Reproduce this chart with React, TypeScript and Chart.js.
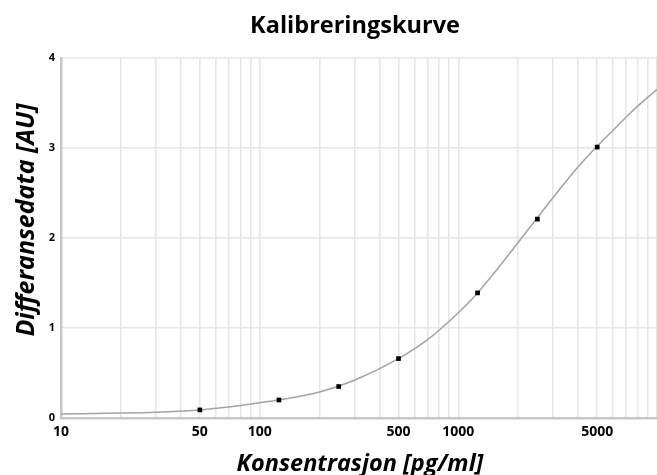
import { useEffect, useRef } from "react";
import { Chart, registerables } from "chart.js";

Chart.register(...registerables);

// Measured calibration standards
const concentrations = [50, 125, 250, 500, 1250, 2500, 5000];
const responses = [0.09, 0.2, 0.35, 0.66, 1.39, 2.21, 3.01];

// Fitted curve
const curveX = [10, 20, 30, 50, 100, 200, 300, 500, 700, 1000, 1250, 1500, 2000, 3000, 4000, 5000, 6000, 7000, 8000, 9000, 10000];
const curveY = [0.045, 0.055, 0.065, 0.09, 0.17, 0.29, 0.42, 0.66, 0.87, 1.17, 1.39, 1.6, 1.95, 2.45, 2.79, 3.02, 3.195, 3.345, 3.465, 3.565, 3.65];

// Axis ticks
const xGridValues = [
  10, 20, 30, 40, 50, 60, 70, 80, 90,
  100, 200, 300, 400, 500, 600, 700, 800, 900,
  1000, 2000, 3000, 4000, 5000, 6000, 7000, 8000, 9000, 10000,
];
const xTickLabels = [10, 50, 100, 500, 1000, 5000];
const yTicks = [0, 1, 2, 3, 4];

const chartTitle = "Kalibreringskurve";
const xTitle = "Konsentrasjon [pg/ml]";
const yTitle = "Differansedata [AU]";

const FONT = "'Open Sans'";
const W = 657;
const H = 475;

export default function App() {
  const ref = useRef<HTMLCanvasElement | null>(null);

  useEffect(() => {
    if (!ref.current) return;

    const titlesPlugin = {
      id: "titlesPlugin",
      afterDraw(chart: any) {
        const { ctx, chartArea } = chart;
        const cx = (chartArea.left + chartArea.right) / 2;
        ctx.save();
        ctx.fillStyle = "#000";
        ctx.textAlign = "center";
        ctx.textBaseline = "alphabetic";
        ctx.font = `bold 23.5px ${FONT}`;
        ctx.fillText(chartTitle, cx - 4, 33);
        ctx.font = `italic bold 23.5px ${FONT}`;
        ctx.fillText(xTitle, cx + 1, 471);
        ctx.font = `italic bold 25px ${FONT}`;
        ctx.translate(34, chartArea.top + (chartArea.bottom - chartArea.top) * 0.45);
        ctx.rotate(-Math.PI / 2);
        ctx.fillText(yTitle, 0, 0);
        ctx.restore();
      },
    };

    const chart = new Chart(ref.current, {
      type: "scatter",
      data: {
        datasets: [
          {
            label: "Standarder",
            data: concentrations.map((c, i) => ({ x: c, y: responses[i] })),
            showLine: false,
            pointStyle: "rect",
            pointRadius: 3.3,
            pointBackgroundColor: "#000",
            pointBorderColor: "#000",
            pointBorderWidth: 0,
            order: 0,
          },
          {
            label: "Kurve",
            data: curveX.map((c, i) => ({ x: c, y: curveY[i] })),
            showLine: true,
            borderColor: "#a3a3a3",
            borderWidth: 1.5,
            pointRadius: 0,
            cubicInterpolationMode: "monotone",
            order: 1,
          },
        ],
      },
      options: {
        animation: false,
        responsive: false,
        maintainAspectRatio: false,
        devicePixelRatio: 1,
        layout: { padding: { top: 58, left: 0, right: 0, bottom: 0 } },
        plugins: {
          legend: { display: false },
          tooltip: { enabled: false },
          title: { display: false },
        },
        scales: {
          x: {
            type: "logarithmic",
            min: 10,
            max: 10000,
            afterBuildTicks: (scale: any) => {
              scale.ticks = xGridValues.map((v) => ({ value: v }));
            },
            afterFit: (scale: any) => {
              scale.height = 57;
              scale.paddingLeft = 0;
              scale.paddingRight = 0;
            },
            ticks: {
              autoSkip: false,
              maxRotation: 0,
              padding: 6,
              color: "#000",
              font: { family: "Open Sans", weight: "bold", size: 14 },
              callback: (v: any) => (xTickLabels.includes(Number(v)) ? String(v) : ""),
            },
            grid: { color: "#e6e6e6", lineWidth: 1.5, drawTicks: false },
            border: { color: "#c8c8c8", width: 2.5 },
          },
          y: {
            min: 0,
            max: 4,
            afterBuildTicks: (scale: any) => {
              scale.ticks = yTicks.map((v) => ({ value: v }));
            },
            afterFit: (scale: any) => {
              scale.width = 61;
              scale.paddingTop = 0;
              scale.paddingBottom = 0;
            },
            ticks: {
              padding: 6,
              color: "#000",
              font: { family: "Open Sans", weight: "bold", size: 11 },
            },
            grid: { color: "#e6e6e6", lineWidth: 1.5, drawTicks: false },
            border: { color: "#c8c8c8", width: 2.5 },
          },
        },
      },
      plugins: [titlesPlugin],
    } as any);

    return () => chart.destroy();
  }, []);

  return (
    <div style={{ position: "absolute", left: 0, top: 0, width: W, height: H, overflow: "hidden", background: "#fff" }}>
      <canvas ref={ref} width={W + 4} height={H} style={{ display: "block" }} />
    </div>
  );
}
